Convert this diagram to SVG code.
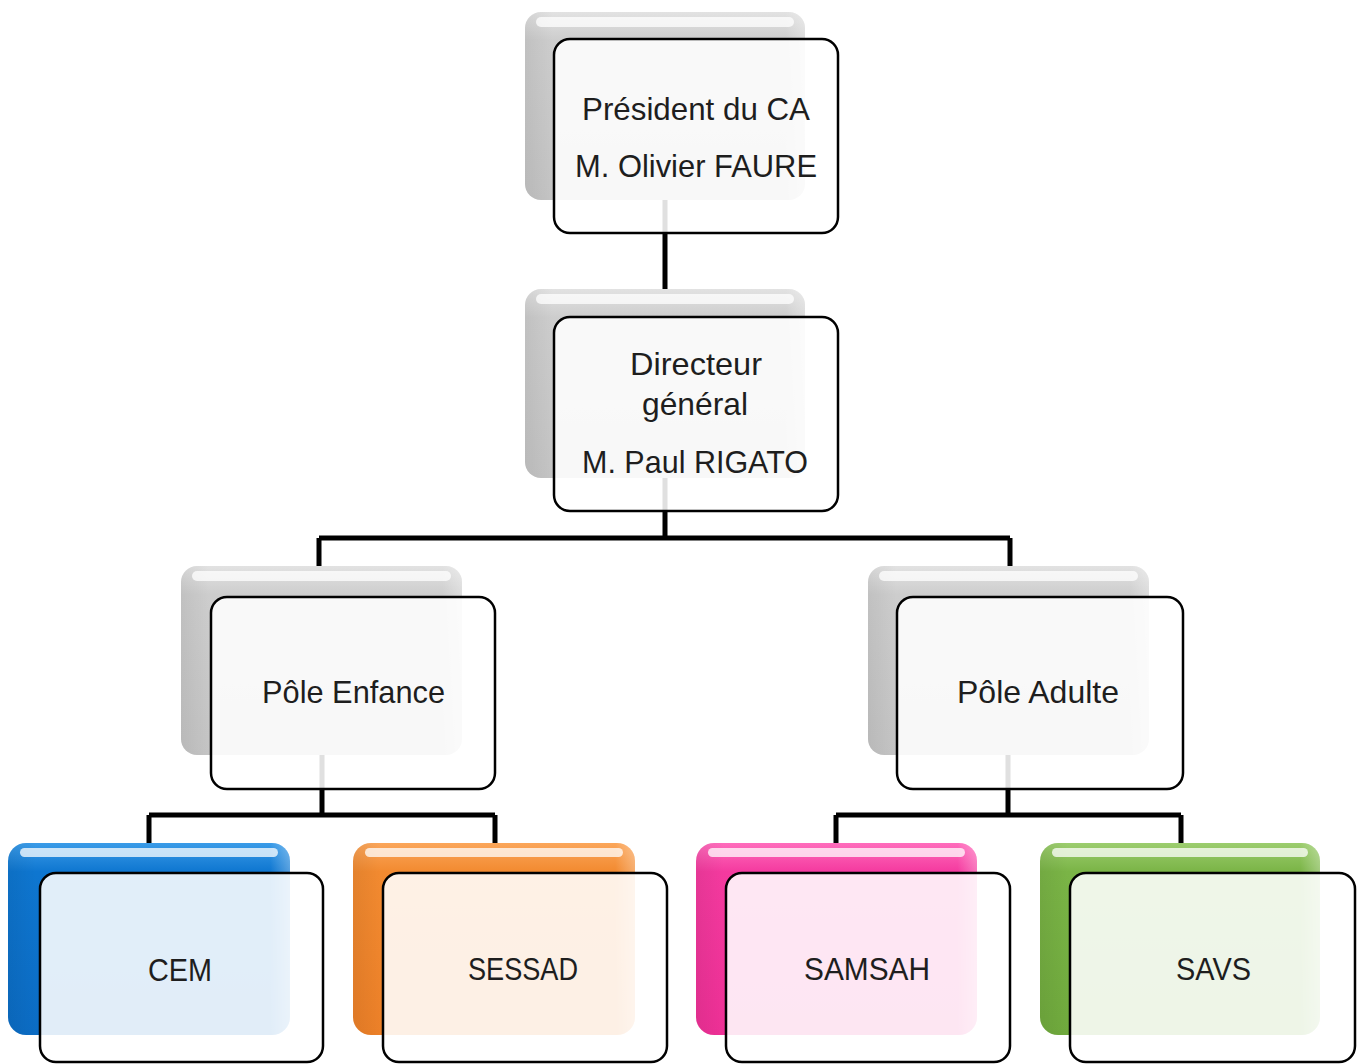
<svg xmlns="http://www.w3.org/2000/svg" width="1363" height="1064" viewBox="0 0 1363 1064">
<defs>
<linearGradient id="gGray" x1="0" y1="0" x2="0" y2="1">
<stop offset="0" stop-color="#e2e2e2"/><stop offset="0.15" stop-color="#cdcdcd"/><stop offset="1" stop-color="#c4c4c4"/>
</linearGradient>
<linearGradient id="gBlue" x1="0" y1="0" x2="0" y2="1">
<stop offset="0" stop-color="#3a9be8"/><stop offset="0.15" stop-color="#0e76d0"/><stop offset="1" stop-color="#0b6cc4"/>
</linearGradient>
<linearGradient id="gOrange" x1="0" y1="0" x2="0" y2="1">
<stop offset="0" stop-color="#fba65a"/><stop offset="0.15" stop-color="#f28a30"/><stop offset="1" stop-color="#ec8028"/>
</linearGradient>
<linearGradient id="gPink" x1="0" y1="0" x2="0" y2="1">
<stop offset="0" stop-color="#ff6cbc"/><stop offset="0.15" stop-color="#f43a9f"/><stop offset="1" stop-color="#ee3096"/>
</linearGradient>
<linearGradient id="gGreen" x1="0" y1="0" x2="0" y2="1">
<stop offset="0" stop-color="#9ccd6e"/><stop offset="0.15" stop-color="#7ab446"/><stop offset="1" stop-color="#70aa3d"/>
</linearGradient>
<linearGradient id="gSide" x1="0" y1="0" x2="1" y2="0">
<stop offset="0" stop-color="#000" stop-opacity="0.06"/><stop offset="0.1" stop-color="#000" stop-opacity="0"/><stop offset="0.93" stop-color="#fff" stop-opacity="0"/><stop offset="1" stop-color="#fff" stop-opacity="0.3"/>
</linearGradient>
</defs>
<style>
.conn{fill:none;stroke:#000;stroke-width:5;stroke-linejoin:miter;stroke-linecap:butt}
.side{fill:url(#gSide)}
.hl{fill:#fff;opacity:0.75}
.front{fill:#fff;fill-opacity:0.88;stroke:#000;stroke-width:2.5}
.lbl{font-family:"Liberation Sans",Arial,sans-serif;font-size:32px;fill:#1e1e1e;text-anchor:middle}
</style>
<g id="connectors">
<path class="conn" d="M665,150 V290"/>
<path class="conn" d="M665,430 V538 M319,538 H1010 M319,538 V570 M1010,538 V570"/>
<path class="conn" d="M322,700 V815 M149,815 H495 M149,815 V846 M495,815 V846"/>
<path class="conn" d="M1008,700 V815 M836,815 H1181 M836,815 V846 M1181,815 V846"/>
</g>
<g id="node-president">
<rect x="525" y="12" width="280" height="188" rx="16" fill="url(#gGray)"/>
<rect class="side" x="525" y="12" width="280" height="188" rx="16"/>
<rect class="hl" x="536" y="17" width="258" height="10" rx="5"/>
<rect class="front" x="554" y="39" width="284" height="194" rx="16"/>
<text class="lbl" x="696" y="120" textLength="228" lengthAdjust="spacingAndGlyphs">Président du CA</text>
<text class="lbl" x="696" y="177" textLength="242" lengthAdjust="spacingAndGlyphs">M. Olivier FAURE</text>
</g>
<g id="node-directeur">
<rect x="525" y="289" width="280" height="189" rx="16" fill="url(#gGray)"/>
<rect class="side" x="525" y="289" width="280" height="189" rx="16"/>
<rect class="hl" x="536" y="294" width="258" height="10" rx="5"/>
<rect class="front" x="554" y="317" width="284" height="194" rx="16"/>
<text class="lbl" x="696" y="375" textLength="132" lengthAdjust="spacingAndGlyphs">Directeur</text>
<text class="lbl" x="695" y="415" textLength="106" lengthAdjust="spacingAndGlyphs">général</text>
<text class="lbl" x="695" y="473" textLength="226" lengthAdjust="spacingAndGlyphs">M. Paul RIGATO</text>
</g>
<g id="node-pole-enfance">
<rect x="181" y="566" width="281" height="189" rx="16" fill="url(#gGray)"/>
<rect class="side" x="181" y="566" width="281" height="189" rx="16"/>
<rect class="hl" x="192" y="571" width="259" height="10" rx="5"/>
<rect class="front" x="211" y="597" width="284" height="192" rx="16"/>
<text class="lbl" x="353.5" y="703" textLength="183" lengthAdjust="spacingAndGlyphs">Pôle Enfance</text>
</g>
<g id="node-pole-adulte">
<rect x="868" y="566" width="281" height="189" rx="16" fill="url(#gGray)"/>
<rect class="side" x="868" y="566" width="281" height="189" rx="16"/>
<rect class="hl" x="879" y="571" width="259" height="10" rx="5"/>
<rect class="front" x="897" y="597" width="286" height="192" rx="16"/>
<text class="lbl" x="1038" y="703" textLength="162" lengthAdjust="spacingAndGlyphs">Pôle Adulte</text>
</g>
<g id="node-cem">
<rect x="8" y="843" width="282" height="192" rx="18" fill="url(#gBlue)"/>
<rect class="side" x="8" y="843" width="282" height="192" rx="18"/>
<rect class="hl" x="20" y="848" width="258" height="9" rx="4.5" opacity="0.35"/>
<rect class="front" x="40" y="873" width="283" height="189" rx="16"/>
<text class="lbl" x="180" y="981" textLength="64" lengthAdjust="spacingAndGlyphs">CEM</text>
</g>
<g id="node-sessad">
<rect x="353" y="843" width="282" height="192" rx="18" fill="url(#gOrange)"/>
<rect class="side" x="353" y="843" width="282" height="192" rx="18"/>
<rect class="hl" x="365" y="848" width="258" height="9" rx="4.5" opacity="0.35"/>
<rect class="front" x="383" y="873" width="284" height="189" rx="16"/>
<text class="lbl" x="523" y="980" textLength="110" lengthAdjust="spacingAndGlyphs">SESSAD</text>
</g>
<g id="node-samsah">
<rect x="696" y="843" width="281" height="192" rx="18" fill="url(#gPink)"/>
<rect class="side" x="696" y="843" width="281" height="192" rx="18"/>
<rect class="hl" x="708" y="848" width="257" height="9" rx="4.5" opacity="0.35"/>
<rect class="front" x="726" y="873" width="284" height="189" rx="16"/>
<text class="lbl" x="867" y="980" textLength="126" lengthAdjust="spacingAndGlyphs">SAMSAH</text>
</g>
<g id="node-savs">
<rect x="1040" y="843" width="280" height="192" rx="18" fill="url(#gGreen)"/>
<rect class="side" x="1040" y="843" width="280" height="192" rx="18"/>
<rect class="hl" x="1052" y="848" width="256" height="9" rx="4.5" opacity="0.35"/>
<rect class="front" x="1070" y="873" width="285" height="189" rx="16"/>
<text class="lbl" x="1213.5" y="980" textLength="75" lengthAdjust="spacingAndGlyphs">SAVS</text>
</g>
</svg>
